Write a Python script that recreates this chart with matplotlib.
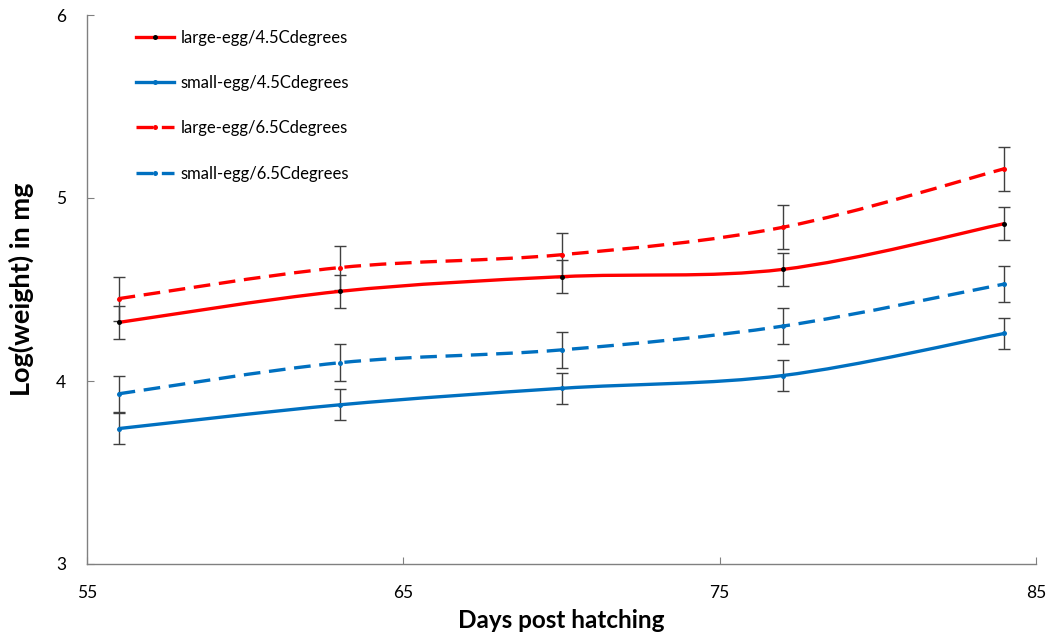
import numpy as np
import matplotlib
matplotlib.use('Agg')
import matplotlib.pyplot as plt
from matplotlib.path import Path
from matplotlib.patches import PathPatch
from matplotlib.lines import Line2D

plt.rcParams['font.family'] = ['Lato', 'DejaVu Sans']

# data
days = [56, 63, 70, 77, 84]
large_45 = [4.32, 4.49, 4.57, 4.61, 4.86]
small_45 = [3.74, 3.87, 3.96, 4.03, 4.26]
large_65 = [4.45, 4.62, 4.69, 4.84, 5.16]
small_65 = [3.93, 4.10, 4.17, 4.30, 4.53]
err_large_45 = [0.09, 0.09, 0.09, 0.09, 0.09]
err_small_45 = [0.085, 0.085, 0.085, 0.085, 0.085]
err_large_65 = [0.12, 0.12, 0.12, 0.12, 0.12]
err_small_65 = [0.10, 0.10, 0.10, 0.10, 0.10]
labels = ['large-egg/4.5Cdegrees', 'small-egg/4.5Cdegrees',
          'large-egg/6.5Cdegrees', 'small-egg/6.5Cdegrees']

red = '#ff0000'
blue = '#0070c0'


def smooth_path(x, y):
    # excel-like smoothed line: cubic bezier through the points
    x = np.asarray(x, float)
    y = np.asarray(y, float)
    pts = np.column_stack([x, y])
    verts = [pts[0]]
    codes = [Path.MOVETO]
    n = len(pts)
    for i in range(n - 1):
        p0 = pts[i - 1] if i > 0 else pts[i]
        p1 = pts[i]
        p2 = pts[i + 1]
        p3 = pts[i + 2] if i + 2 < n else pts[i + 1]
        c1 = p1 + (p2 - p0) / 6.0
        c2 = p2 - (p3 - p1) / 6.0
        verts += [c1, c2, p2]
        codes += [Path.CURVE4] * 3
    return Path(verts, codes)


fig = plt.figure(figsize=(10.51, 6.34), dpi=100)
ax = fig.add_axes([87 / 1051, 1 - 564 / 634, (1036 - 87) / 1051, (564 - 15) / 634])

series = [
    (large_45, err_large_45, red, '-', 'black'),
    (small_45, err_small_45, blue, '-', blue),
    (large_65, err_large_65, red, '--', red),
    (small_65, err_small_65, blue, '--', blue),
]

handles = []
for (vals, errs, col, ls, mcol), lab in zip(series, labels):
    ax.errorbar(days, vals, yerr=errs, fmt='none', ecolor='#404040',
                elinewidth=1.0, capsize=4, capthick=1.0, zorder=2)
    dash = (0, (5, 2.6)) if ls == '--' else 'solid'
    patch = PathPatch(smooth_path(days, vals), facecolor='none', edgecolor=col,
                      linewidth=2.4, linestyle=dash, capstyle='butt', zorder=3)
    ax.add_patch(patch)
    ax.plot(days, vals, 'o', color=mcol, markersize=3.6, markeredgewidth=0, zorder=4)
    handles.append(Line2D([], [], color=col, linestyle=dash, linewidth=2.4,
                          marker='o', markersize=3.6, markerfacecolor=mcol,
                          markeredgewidth=0))

ax.set_xlim(55, 85)
ax.set_ylim(3, 6)
ax.set_xticks([55, 65, 75, 85])
ax.set_yticks([3, 4, 5, 6])
for s in ['top', 'right']:
    ax.spines[s].set_visible(False)
for s in ['left', 'bottom']:
    ax.spines[s].set_color('#808080')
    ax.spines[s].set_linewidth(1.0)
ax.tick_params(axis='x', direction='in', length=5, color='#808080', pad=15, labelsize=12.5)
ax.tick_params(axis='y', direction='in', length=5, color='#808080', pad=15, labelsize=12.5)

ax.set_xlabel('Days post hatching', fontsize=17.5, fontweight='bold', labelpad=6)
ax.set_ylabel('Log(weight) in mg', fontsize=19.5, fontweight='bold', labelpad=16)

ax.legend(handles, labels, loc='upper left', bbox_to_anchor=(0.036, 1.0),
          frameon=False, fontsize=12, labelspacing=1.75, handlelength=2.3,
          handletextpad=0.35)

fig.savefig('out.png', dpi=100)
